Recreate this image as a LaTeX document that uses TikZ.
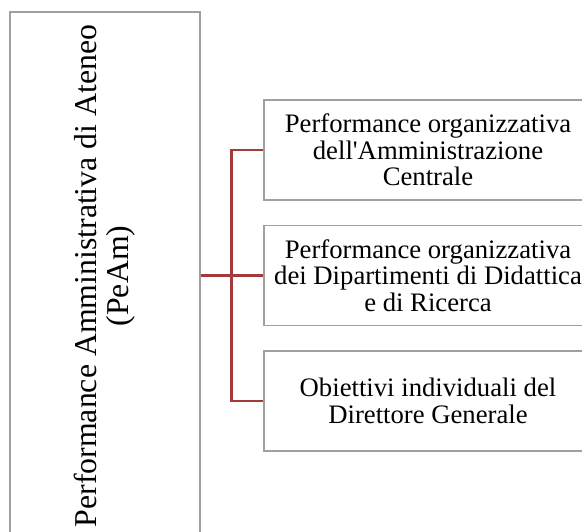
\documentclass[tikz,border=0pt]{standalone}
\usepackage{fontspec}
\setmainfont{Liberation Serif}
\definecolor{boxgray}{HTML}{A0A0A0}
\definecolor{connred}{HTML}{A33A3C}
\begin{document}
\begin{tikzpicture}[x=1pt,y=-1pt,
  box/.style={draw=boxgray, line width=1.3pt, fill=white, align=center, inner sep=0pt},
  small/.style={font=\fontsize{26.7}{26.5}\selectfont},
  big/.style={font=\fontsize{31.8}{32}\selectfont},
  conn/.style={draw=connred, line width=2.3pt}]
\useasboundingbox (0,0) rectangle (582,532);
\clip (0,0) rectangle (582,532);
\node[box, big, rotate=90, minimum width=528pt, minimum height=190pt] (peam) at (105,276)
  {Performance Amministrativa di Ateneo\\(PeAm)};
\node[box, small, minimum width=328pt, minimum height=100pt] (b1) at (428,150)
  {Performance organizzativa\\dell\textquotesingle Amministrazione\\Centrale};
\node[box, small, minimum width=328pt, minimum height=100pt] (b2) at (428,275.5)
  {Performance organizzativa\\dei Dipartimenti di Didattica\\e di Ricerca};
\node[box, small, minimum width=328pt, minimum height=100pt] (b3) at (428,401)
  {Obiettivi individuali del\\Direttore Generale};
\coordinate (j) at (231.5,275.5);
\draw[conn] (b2.west -| peam.south) -- (b2.west);
\draw[conn] (b1.west) -| (j) |- (b3.west);
\end{tikzpicture}
\end{document}
